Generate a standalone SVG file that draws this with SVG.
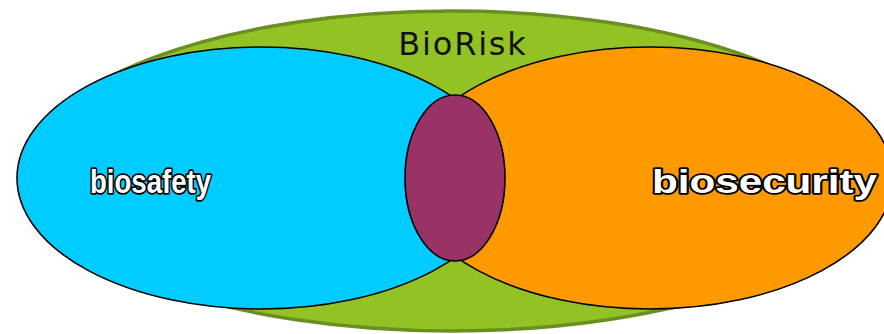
<svg xmlns="http://www.w3.org/2000/svg" width="884" height="334" viewBox="0 0 884 334">
<style>
.set{stroke:#000;stroke-width:1.6}
.lbl{font-family:"Liberation Sans",Arial,sans-serif;font-weight:bold;font-size:33px;fill:#fff;stroke:#000;stroke-width:3.5;paint-order:stroke;stroke-linejoin:round}
</style>
<rect width="884" height="334" fill="#fff"/>
<g id="biorisk">
<ellipse cx="452" cy="171" rx="423" ry="160" fill="#93c225" stroke="#6b8e23" stroke-width="3.5"/>
<text x="463" y="55" text-anchor="middle" font-family="DejaVu Sans,sans-serif" font-size="32" letter-spacing="1.8" fill="#111">BioRisk</text>
</g>
<g id="biosafety">
<ellipse class="set" cx="261" cy="178" rx="244" ry="131" fill="#00ccff"/>
<text class="lbl" x="90" y="193" textLength="121" lengthAdjust="spacingAndGlyphs">biosafety</text>
</g>
<g id="biosecurity">
<ellipse class="set" cx="650" cy="178" rx="243" ry="131" fill="#ff9900"/>
<text class="lbl" x="652" y="193" textLength="225" lengthAdjust="spacingAndGlyphs">biosecurity</text>
</g>
<g id="overlap">
<ellipse class="set" cx="455" cy="178" rx="50" ry="83" fill="#993366"/>
</g>
<g id="connectors"/>
</svg>
